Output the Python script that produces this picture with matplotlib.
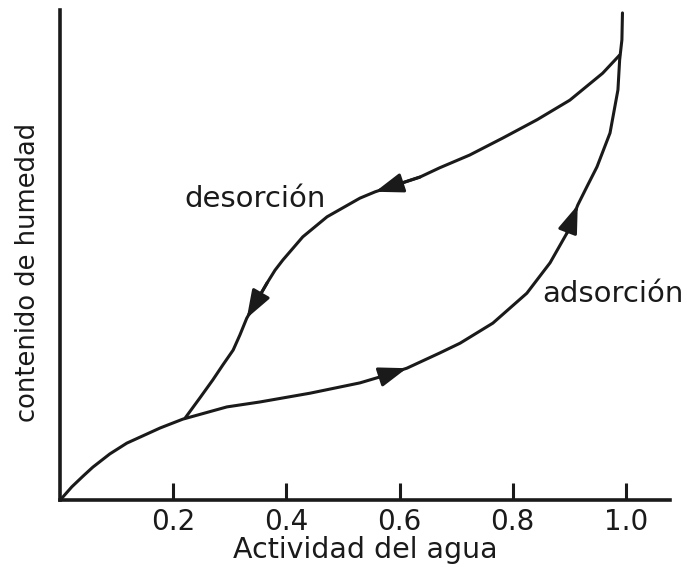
import numpy as np
import matplotlib
matplotlib.use('Agg')
import matplotlib.pyplot as plt

# Curva de adsorcion (actividad del agua, contenido de humedad relativo)
ads_x = [0.000, 0.005, 0.021, 0.041, 0.058, 0.088, 0.118, 0.177, 0.217, 0.295,
         0.353, 0.442, 0.530, 0.565, 0.613, 0.671, 0.707, 0.765, 0.825, 0.866,
         0.896, 0.915, 0.931, 0.949, 0.972, 0.986, 0.989, 0.993, 0.994]
ads_y = [0.000, 0.006, 0.027, 0.049, 0.067, 0.094, 0.116, 0.147, 0.165, 0.190,
         0.200, 0.218, 0.239, 0.251, 0.269, 0.300, 0.320, 0.361, 0.422, 0.484,
         0.545, 0.602, 0.639, 0.680, 0.749, 0.837, 0.898, 0.939, 0.994]

# Curva de desorcion
des_x = [0.989, 0.959, 0.901, 0.843, 0.783, 0.724, 0.671, 0.636, 0.557, 0.530,
         0.472, 0.429, 0.394, 0.380, 0.366, 0.330, 0.318, 0.306, 0.288, 0.270,
         0.247, 0.221]
des_y = [0.908, 0.871, 0.816, 0.776, 0.739, 0.704, 0.678, 0.659, 0.629, 0.616,
         0.578, 0.537, 0.490, 0.469, 0.443, 0.371, 0.337, 0.306, 0.276, 0.245,
         0.208, 0.167]

# indices de las puntas de flecha
ads_arrows = [14, 21]
des_arrows = [8, 15]

xticks = [0.2, 0.4, 0.6, 0.8, 1.0]
xtick_labels = ['0.2', '0.4', '0.6', '0.8', '1.0']

ink = '#1a1a1a'

fig = plt.figure(figsize=(6.87, 5.67), dpi=100)
ax = fig.add_axes([60/687, 67/567, 610/687, 490/567])

ax.plot(ads_x, ads_y, color=ink, lw=2.2, solid_capstyle='round', solid_joinstyle='round')
ax.plot(des_x, des_y, color=ink, lw=2.2, solid_capstyle='round', solid_joinstyle='round')

for xs, ys, idx in [(ads_x, ads_y, ads_arrows), (des_x, des_y, des_arrows)]:
    for i in idx:
        ax.annotate('', xy=(xs[i], ys[i]), xytext=(xs[i-1], ys[i-1]),
                    arrowprops=dict(arrowstyle='-|>,head_length=1.7,head_width=0.6',
                                    mutation_scale=10, color=ink, lw=2.2,
                                    shrinkA=0, shrinkB=0))

ax.text(0.345, 0.598, 'desorción', ha='center', va='baseline', fontsize=21, color=ink)
ax.text(0.977, 0.404, 'adsorción', ha='center', va='baseline', fontsize=21, color=ink)

ax.set_xlim(0, 1.078)
ax.set_ylim(0, 1.0)
ax.set_xticks(xticks)
ax.set_xticklabels(xtick_labels)
ax.set_yticks([])
ax.tick_params(axis='x', direction='in', length=12, width=2.2, pad=6,
               labelsize=20, colors=ink)

for s in ['top', 'right']:
    ax.spines[s].set_visible(False)
for s in ['left', 'bottom']:
    ax.spines[s].set_linewidth(2.6)
    ax.spines[s].set_color(ink)

ax.set_xlabel('Actividad del agua', fontsize=20.5, color=ink, labelpad=0)
ax.set_ylabel('contenido de humedad', fontsize=18.5, color=ink)
ax.yaxis.set_label_coords(-0.031, 0.465)

plt.savefig('out.png', dpi=100)
plt.close()
